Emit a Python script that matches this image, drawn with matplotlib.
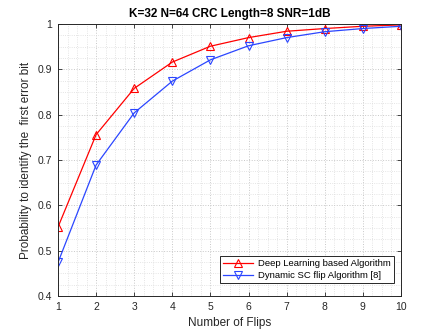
import numpy as np
import matplotlib.pyplot as plt
from matplotlib.ticker import AutoMinorLocator

flips = [1, 2, 3, 4, 5, 6, 7, 8, 9, 10]
deep_learning = [0.552, 0.756, 0.858, 0.916, 0.951, 0.970, 0.984, 0.990, 0.995, 0.998]
dynamic_scflip = [0.474, 0.689, 0.804, 0.874, 0.921, 0.952, 0.970, 0.983, 0.990, 0.995]
y_ticks = [0.4, 0.5, 0.6, 0.7, 0.8, 0.9, 1.0]
y_tick_labels = ["0.4", "0.5", "0.6", "0.7", "0.8", "0.9", "1"]

plt.rcParams["font.family"] = ["Liberation Sans", "DejaVu Sans"]
plt.rcParams["font.size"] = 7.5

fig = plt.figure(figsize=(4.43, 3.32), dpi=100)
ax = fig.add_axes([58 / 443, 1 - 296 / 332, 343 / 443, 272 / 332])

ax.plot(flips, deep_learning, color="#ff0000", lw=0.9, marker="^", ms=6,
        mfc="none", mec="#ff0000", mew=0.8, label="Deep Learning based Algorithm")
ax.plot(flips, dynamic_scflip, color="#2b46ff", lw=0.9, marker="v", ms=6,
        mfc="none", mec="#2b46ff", mew=0.8, label="Dynamic SC flip Algorithm [8]")

ax.set_xlim(1, 10)
ax.set_ylim(0.4, 1.0)
ax.set_xticks(flips)
ax.set_yticks(y_ticks)
ax.set_yticklabels(y_tick_labels)
ax.xaxis.set_minor_locator(AutoMinorLocator(4))
ax.yaxis.set_minor_locator(AutoMinorLocator(4))
ax.grid(which="major", color="#c8c8c8", ls=":", lw=0.7)
ax.grid(which="minor", color="#dcdcdc", ls=":", lw=0.6)
ax.tick_params(which="major", direction="in", top=True, right=True, length=3,
               width=0.6, colors="#262626", labelsize=7.5, pad=4)
ax.tick_params(which="minor", length=0)
for s in ax.spines.values():
    s.set_linewidth(0.7)
    s.set_color("#262626")

ax.set_xlabel("Number of Flips", fontsize=8.5, color="#262626")
ax.set_ylabel("Probability to identify the  first error bit", fontsize=8.5, color="#262626")
ax.set_title("K=32 N=64 CRC Length=8 SNR=1dB", fontsize=8.5, fontweight="bold", pad=5)

leg = ax.legend(loc="lower right", fontsize=6.8, fancybox=False, edgecolor="#262626",
                framealpha=1, borderpad=0.35, handlelength=3.2, handletextpad=0.5,
                labelspacing=0.25, bbox_to_anchor=(0.994, 0.03))
leg.get_frame().set_linewidth(0.7)

fig.savefig("out.png", dpi=100)
